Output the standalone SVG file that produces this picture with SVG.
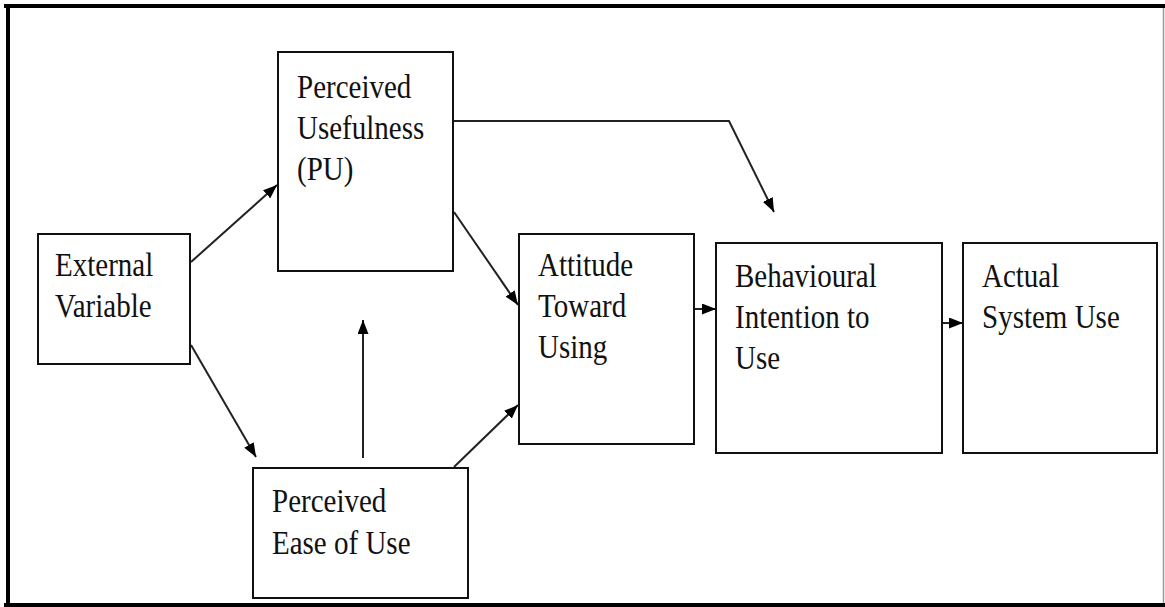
<svg xmlns="http://www.w3.org/2000/svg" width="1165" height="607" viewBox="0 0 1165 607">
<defs>
<style>
.box{fill:#fff;stroke:#111;stroke-width:2}
.lbl{font-family:"Liberation Serif","Times New Roman",serif;font-size:29px;fill:#111}
.conn{fill:none;stroke:#222;stroke-width:2}
</style>
<marker id="ah" viewBox="0 0 14 11" refX="14" refY="5.5" markerWidth="14" markerHeight="11" markerUnits="userSpaceOnUse" orient="auto">
<path d="M0,0 L14,5.5 L0,11 Z" fill="#000"/>
</marker>
</defs>
<rect width="1165" height="607" fill="#fff"/>
<g id="frame">
<line x1="4" y1="6" x2="1165" y2="6" stroke="#000" stroke-width="4"/>
<line x1="8" y1="4" x2="8" y2="607" stroke="#000" stroke-width="4"/>
<line x1="4" y1="605" x2="1165" y2="605" stroke="#000" stroke-width="4"/>
<line x1="1163.5" y1="8" x2="1163.5" y2="603" stroke="#999" stroke-width="1.5"/>
</g>
<g id="connectors">
<line class="conn" x1="191" y1="262" x2="277" y2="185" marker-end="url(#ah)"/>
<line class="conn" x1="191" y1="345" x2="256" y2="457" marker-end="url(#ah)"/>
<line class="conn" x1="363" y1="458" x2="363" y2="320" marker-end="url(#ah)"/>
<line class="conn" x1="454" y1="212" x2="518" y2="305" marker-end="url(#ah)"/>
<line class="conn" x1="454" y1="467" x2="518" y2="405" marker-end="url(#ah)"/>
<line class="conn" x1="694" y1="309" x2="716" y2="309" marker-end="url(#ah)"/>
<line class="conn" x1="942" y1="323" x2="963" y2="323" marker-end="url(#ah)"/>
<polyline class="conn" points="453,121 729,121 774,212" marker-end="url(#ah)"/>
</g>
<g id="external">
<rect class="box" x="38" y="234" width="152" height="130"/>
<text class="lbl" transform="translate(55,276) scale(1,1.15)"><tspan x="0" y="0">External</tspan><tspan x="0" dy="36">Variable</tspan></text>
</g>
<g id="pu">
<rect class="box" x="278" y="52" width="175" height="219"/>
<text class="lbl" transform="translate(297,98) scale(1,1.15)"><tspan x="0" y="0">Perceived</tspan><tspan x="0" dy="35.7">Usefulness</tspan><tspan x="0" dy="35.7">(PU)</tspan></text>
</g>
<g id="peou">
<rect class="box" x="253" y="468" width="215" height="130"/>
<text class="lbl" transform="translate(272,512) scale(1,1.15)"><tspan x="0" y="0">Perceived</tspan><tspan x="0" dy="36.5">Ease of Use</tspan></text>
</g>
<g id="attitude">
<rect class="box" x="519" y="234" width="175" height="210"/>
<text class="lbl" transform="translate(538,276) scale(1,1.15)"><tspan x="0" y="0">Attitude</tspan><tspan x="0" dy="35.7">Toward</tspan><tspan x="0" dy="35.7">Using</tspan></text>
</g>
<g id="behavioural">
<rect class="box" x="716" y="243" width="226" height="210"/>
<text class="lbl" transform="translate(735,287) scale(1,1.15)"><tspan x="0" y="0">Behavioural</tspan><tspan x="0" dy="35.7">Intention to</tspan><tspan x="0" dy="35.7">Use</tspan></text>
</g>
<g id="actual">
<rect class="box" x="963" y="243" width="194" height="210"/>
<text class="lbl" transform="translate(982,287) scale(1,1.15)"><tspan x="0" y="0">Actual</tspan><tspan x="0" dy="35.7">System Use</tspan></text>
</g>
</svg>
